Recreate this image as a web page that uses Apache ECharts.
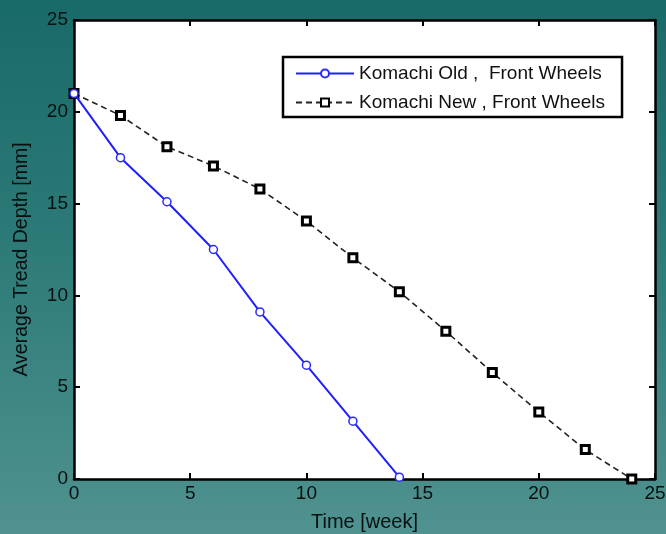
<!DOCTYPE html>
<html>
<head>
<meta charset="utf-8">
<script src="https://cdn.jsdelivr.net/npm/echarts@6/dist/echarts.min.js"></script>
<style>
html,body{margin:0;padding:0;width:666px;height:534px;overflow:hidden;}
#c{width:666px;height:534px;}
</style>
</head>
<body>
<div id="c"></div>
<script>
const weeksOld = [0, 2, 4, 6, 8, 10, 12, 14];
const depthOld = [21.0, 17.5, 15.1, 12.5, 9.1, 6.2, 3.15, 0.1];
const weeksNew = [0, 2, 4, 6, 8, 10, 12, 14, 16, 18, 20, 22, 24];
const depthNew = [21.0, 19.8, 18.1, 17.05, 15.8, 14.05, 12.05, 10.2, 8.05, 5.8, 3.65, 1.6, 0.0];
const seriesNames = ['Komachi Old ,  Front Wheels', 'Komachi New , Front Wheels'];
const xTicks = [0, 5, 10, 15, 20, 25];
const yTicks = [0, 5, 10, 15, 20, 25];

const chart = echarts.init(document.getElementById('c'), null, {renderer: 'canvas'});
const font = 'Liberation Sans, Arial, sans-serif';
const txt = '#061010';
function axisCommon() {
  return {
    min: 0, max: 25, interval: 5,
    axisLine: {show: true, onZero: false, lineStyle: {color: '#000', width: 2.5}},
    axisTick: {show: true, inside: true, length: 6, lineStyle: {color: '#000', width: 2}},
    splitLine: {show: false}
  };
}
chart.setOption({
  backgroundColor: {
    type: 'linear', x: 0, y: 0, x2: 0, y2: 1,
    colorStops: [{offset: 0, color: '#186a68'}, {offset: 0.5, color: '#2f7c79'}, {offset: 1, color: '#50928f'}]
  },
  animation: false,
  grid: {left: 74, right: 11, top: 20, bottom: 55, show: true, backgroundColor: '#ffffff', borderWidth: 0,
    outerBoundsMode: 'none', containLabel: false},
  legend: {
    orient: 'vertical', left: 283, top: 57,
    backgroundColor: '#fff', borderColor: '#000', borderWidth: 2.5,
    padding: [7, 17, 5, 12], itemGap: 10,
    itemWidth: 58, itemHeight: 10,
    textStyle: {fontFamily: font, fontSize: 19, color: '#111'},
    data: seriesNames
  },
  xAxis: [
    Object.assign(axisCommon(), {
      type: 'value', position: 'bottom',
      name: 'Time [week]', nameLocation: 'middle', nameGap: 33,
      nameTextStyle: {fontFamily: font, fontSize: 20, color: txt},
      axisLabel: {fontFamily: font, fontSize: 19, color: txt, margin: 5,
        formatter: v => xTicks.includes(v) ? String(v) : ''}
    }),
    Object.assign(axisCommon(), {
      type: 'value', position: 'top', axisLabel: {show: false}
    })
  ],
  yAxis: [
    Object.assign(axisCommon(), {
      type: 'value', position: 'left',
      name: 'Average Tread Depth [mm]', nameLocation: 'middle', nameGap: 42,
      nameTextStyle: {fontFamily: font, fontSize: 19.5, color: txt, padding: [0, 20, 0, 0]},
      axisLabel: {fontFamily: font, fontSize: 19, color: txt, margin: 6,
        formatter: v => yTicks.includes(v) ? String(v) : ''}
    }),
    Object.assign(axisCommon(), {
      type: 'value', position: 'right', axisLabel: {show: false}
    })
  ],
  series: [
    {
      name: seriesNames[1], type: 'line', xAxisIndex: 0, yAxisIndex: 0,
      data: weeksNew.map((w, i) => [w, depthNew[i]]),
      symbol: 'rect', symbolSize: 8,
      lineStyle: {color: '#222', width: 1.6, type: [6, 4]},
      itemStyle: {color: '#fff', borderColor: '#000', borderWidth: 3},
      z: 2
    },
    {
      name: seriesNames[0], type: 'line', xAxisIndex: 0, yAxisIndex: 0,
      data: weeksOld.map((w, i) => [w, depthOld[i]]),
      symbol: 'circle', symbolSize: 8,
      lineStyle: {color: '#1f1fff', width: 2},
      itemStyle: {color: '#fff', borderColor: '#2a2aff', borderWidth: 1.5},
      z: 3
    }
  ]
});
</script>
</body>
</html>
